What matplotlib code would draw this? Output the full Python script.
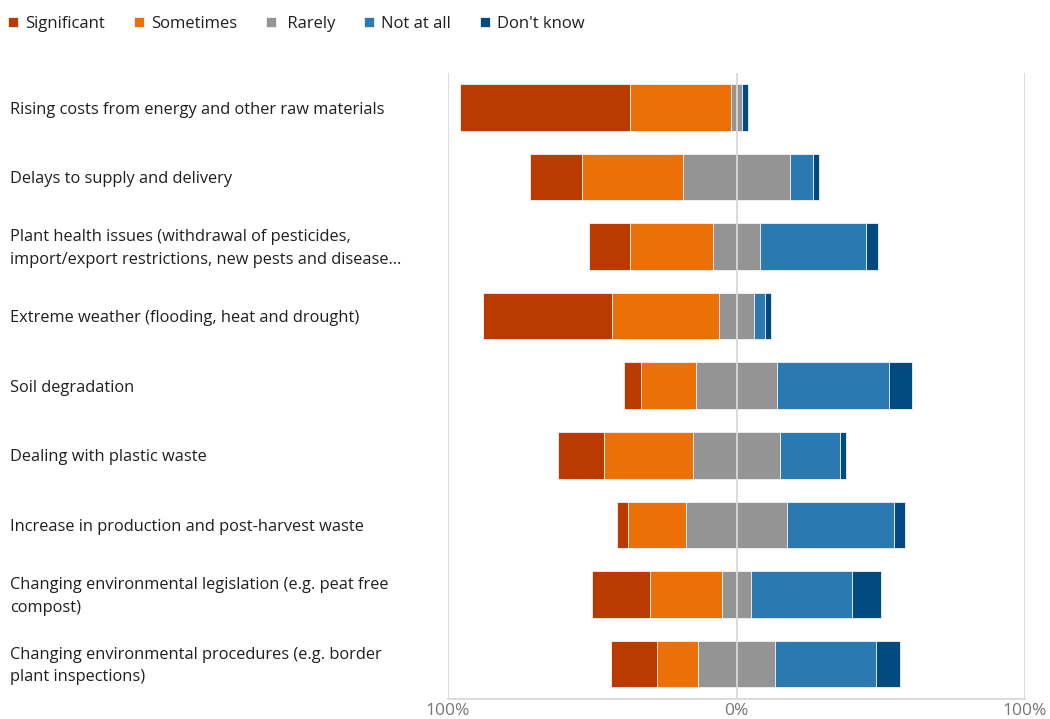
import matplotlib
matplotlib.use("Agg")
from matplotlib import pyplot as plt
from matplotlib import transforms
import numpy as np

plt.rcParams['font.family'] = ['Open Sans', 'DejaVu Sans']

categories = [
    "Rising costs from energy and other raw materials",
    "Delays to supply and delivery",
    "Plant health issues (withdrawal of pesticides,\nimport/export restrictions, new pests and disease…",
    "Extreme weather (flooding, heat and drought)",
    "Soil degradation",
    "Dealing with plastic waste",
    "Increase in production and post-harvest waste",
    "Changing environmental legislation (e.g. peat free\ncompost)",
    "Changing environmental procedures (e.g. border\nplant inspections)",
]
significant = [59, 18, 14, 45, 6, 16, 4, 20, 16]
sometimes = [35, 35, 29, 37, 19, 31, 20, 25, 14]
rarely = [4, 37, 16, 12, 28, 30, 35, 10, 27]
not_at_all = [0, 8, 37, 4, 39, 21, 37, 35, 35]
dont_know = [2, 2, 4, 2, 8, 2, 4, 10, 8]

series_names = ["Significant", "Sometimes", "Rarely", "Not at all", "Don't know"]
colors = ["#BB3A00", "#EC7008", "#949494", "#2B79B1", "#034A81"]

sig = np.array(significant, float)
som = np.array(sometimes, float)
rar = np.array(rarely, float)
nat = np.array(not_at_all, float)
dk = np.array(dont_know, float)

y = np.arange(len(categories))
h = 0.67

fig = plt.figure(figsize=(10.5, 7.19), dpi=100)
ax = fig.add_axes([448 / 1050, 1 - 698.7 / 719, 577 / 1050, (698.7 - 72.7) / 719])

ekw = dict(height=h, edgecolor="#f2f2f2", linewidth=0.6, zorder=2)
# rarely is split evenly across the zero line
ax.barh(y, sig, left=-(rar / 2 + som + sig), color=colors[0], label=series_names[0], **ekw)
ax.barh(y, som, left=-(rar / 2 + som), color=colors[1], label=series_names[1], **ekw)
ax.barh(y, rar, left=-rar / 2, color=colors[2], label=" " + series_names[2], **ekw)
ax.barh(y, nat, left=rar / 2, color=colors[3], label=series_names[3], **ekw)
ax.barh(y, dk, left=rar / 2 + nat, color=colors[4], label=series_names[4], **ekw)

ax.set_xlim(-100, 100)
ax.set_ylim(len(categories) - 0.5, -0.5)
ax.set_xticks([-100, 0, 100])
ax.set_xticklabels(["100%", "0%", "100%"], fontsize=12.5, color="#767676")
ax.tick_params(axis="x", length=0, pad=3)
ax.set_yticks([])
for x in [-100, 0, 100]:
    ax.axvline(x, color="#d9d9d9", linewidth=1.3, zorder=3)
for s in ["top", "right", "left"]:
    ax.spines[s].set_visible(False)
ax.spines["bottom"].set_color("#d9d9d9")
ax.spines["bottom"].set_linewidth(1.3)

trans = transforms.blended_transform_factory(fig.transFigure, ax.transData)
for i, lab in enumerate(categories):
    ax.text(10 / 1050, i + 0.03, lab, transform=trans, ha="left", va="center",
            fontsize=11.8, color="#1f1f1f", linespacing=1.55)

fig.legend(loc="upper left", bbox_to_anchor=(8 / 1050, 1 - 16 / 719), ncol=5, frameon=False,
           fontsize=12, handlelength=0.6, handleheight=0.6, handletextpad=0.45,
           columnspacing=1.7, borderpad=0, borderaxespad=0, labelcolor="#1f1f1f")

fig.savefig("out.png", dpi=100)
